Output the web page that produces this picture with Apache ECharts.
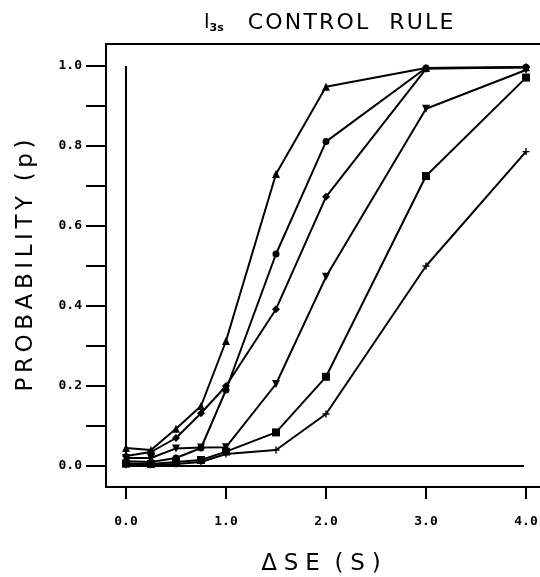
<!DOCTYPE html>
<html>
<head>
<meta charset="utf-8">
<script src="https://cdn.jsdelivr.net/npm/echarts@6/dist/echarts.min.js"></script>
<style>html,body{margin:0;padding:0;background:#fff}#c{width:540px;height:577px}</style>
</head>
<body>
<div id="c"></div>
<script>
const xValues = [0, 0.25, 0.5, 0.75, 1.0, 1.5, 2.0, 3.0, 4.0];
const seriesTriangle = [0.045, 0.04, 0.093, 0.15, 0.3125, 0.73, 0.948, 0.995, 0.997];
const seriesCircle   = [0.012, 0.01, 0.02, 0.045, 0.19, 0.53, 0.811, 0.995, 0.997];
const seriesDiamond  = [0.025, 0.035, 0.07, 0.132, 0.2, 0.392, 0.673, 0.993, 0.997];
const seriesInvTri   = [0.02, 0.02, 0.044, 0.046, 0.047, 0.205, 0.473, 0.893, 0.99];
const seriesSquare   = [0.006, 0.005, 0.01, 0.015, 0.036, 0.084, 0.223, 0.725, 0.971];
const seriesPlus     = [0.003, 0.003, 0.005, 0.01, 0.03, 0.04, 0.13, 0.50, 0.786];
const xTicks = [0, 1, 2, 3, 4];
const yTicks = [0, 0.1, 0.2, 0.3, 0.4, 0.5, 0.6, 0.7, 0.8, 0.9, 1.0];
const yLabels = [0, 0.2, 0.4, 0.6, 0.8, 1.0];
const refVertical = [[0, 0], [0, 1.0]];
const refHorizontal = [[0, 0], [3.98, 0]];

const hs = '\u200A';
const ts = '\u2009';
function spaced(s, sep) { return s.split('').join(sep); }

function mk(vals) { return xValues.map((x, i) => [x, vals[i]]); }
const plusPath = 'path://M4,0L6,0L6,4L10,4L10,6L6,6L6,10L4,10L4,6L0,6L0,4L4,4Z';
function line(name, vals, symbol, size, rot) {
  return {
    name, type: 'line', data: mk(vals), symbol, symbolSize: size, symbolRotate: rot || 0,
    lineStyle: { color: '#000', width: 2 }, itemStyle: { color: '#000' },
    showAllSymbol: true, z: 3
  };
}

const chart = echarts.init(document.getElementById('c'), null, { renderer: 'canvas' });
chart.setOption({
  animation: false,
  backgroundColor: '#fff',
  title: {
    text: '{l|l}{s|3s}{t|' + spaced('CONTROL', hs) + '   ' + spaced('RULE', hs) + '}',
    left: 199, top: 7,
    textStyle: {
      rich: {
        l: { fontFamily: 'DejaVu Sans', fontSize: 20, color: '#000', fontWeight: 'normal' },
        s: { fontFamily: 'DejaVu Sans', fontSize: 11, color: '#000', fontWeight: 'bold', padding: [10, 0, 0, 0] },
        t: { fontFamily: 'DejaVu Sans', fontSize: 22, color: '#000', fontWeight: 'normal', padding: [0, 0, 0, 24] }
      }
    }
  },
  grid: { left: 106, top: 44, right: -6, bottom: 90, containLabel: false, outerBoundsMode: 'none' },
  xAxis: [{
    type: 'value', min: -0.2, max: 4.2, position: 'bottom',
    axisLine: { show: true, onZero: false, lineStyle: { color: '#000', width: 2 } },
    axisTick: { show: true, inside: false, length: 12, customValues: xTicks, lineStyle: { color: '#000', width: 2 } },
    axisLabel: { customValues: xTicks, margin: 28, formatter: v => v.toFixed(1),
      fontFamily: 'DejaVu Sans Mono', fontWeight: 'bold', fontSize: 13, color: '#000' },
    splitLine: { show: false },
    name: spaced('\u0394SE', ts + hs) + '  ' + spaced('(S)', ts + hs),
    nameLocation: 'middle', nameGap: 66,
    nameTextStyle: { fontFamily: 'DejaVu Sans', fontSize: 23, color: '#000', padding: [0, 10, 0, 0] }
  }, {
    type: 'value', min: -0.2, max: 4.2, position: 'top',
    axisLine: { show: true, onZero: false, lineStyle: { color: '#000', width: 2 } },
    axisTick: { show: false }, axisLabel: { show: false }, splitLine: { show: false }
  }],
  yAxis: [{
    type: 'value', min: -0.0525, max: 1.055, position: 'left',
    axisLine: { show: true, onZero: false, lineStyle: { color: '#000', width: 2 } },
    axisTick: { show: true, inside: false, length: 20, customValues: yTicks, lineStyle: { color: '#000', width: 2 } },
    axisLabel: { customValues: yLabels, margin: 24, formatter: v => v.toFixed(1),
      fontFamily: 'DejaVu Sans Mono', fontWeight: 'bold', fontSize: 13, color: '#000' },
    splitLine: { show: false },
    name: spaced('PROBABILITY', ts) + '  ' + spaced('(p)', ts),
    nameLocation: 'middle', nameGap: 68, nameRotate: 90,
    nameTextStyle: { fontFamily: 'DejaVu Sans', fontSize: 23, color: '#000' }
  }],
  series: [
    { type: 'line', data: refVertical, symbol: 'none', lineStyle: { color: '#000', width: 2 }, z: 2 },
    { type: 'line', data: refHorizontal, symbol: 'none', lineStyle: { color: '#000', width: 2 }, z: 2 },
    line('A', seriesTriangle, 'triangle', 8),
    line('B', seriesCircle, 'circle', 7),
    line('C', seriesDiamond, 'diamond', 8),
    line('D', seriesInvTri, 'triangle', 8, 180),
    line('E', seriesSquare, 'rect', 8),
    line('F', seriesPlus, plusPath, 7)
  ]
});
</script>
</body>
</html>
